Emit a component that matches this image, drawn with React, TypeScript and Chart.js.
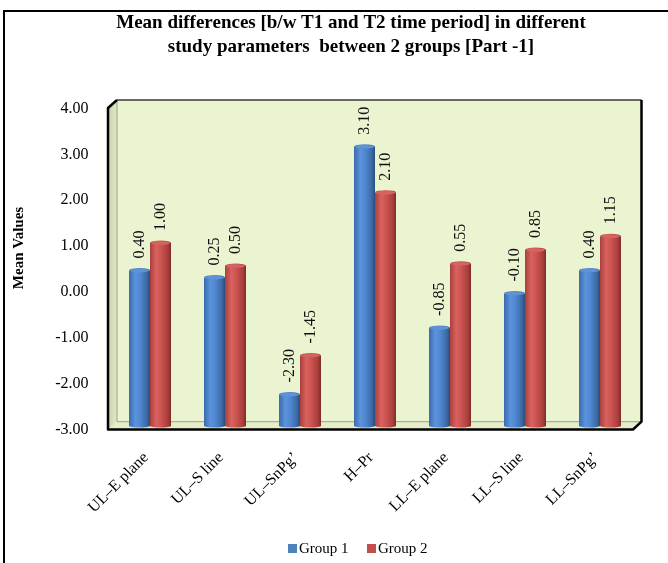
import { useEffect, useRef } from "react";
import { Chart, registerables } from "chart.js";

Chart.register(...registerables);

// ---- data ----
const categories = ["UL–E plane", "UL–S line", "UL–SnPg’", "H–Pr", "LL–E plane", "LL–S line", "LL–SnPg’"];
const group1 = [0.4, 0.25, -2.3, 3.1, -0.85, -0.1, 0.4];
const group2 = [1.0, 0.5, -1.45, 2.1, 0.55, 0.85, 1.15];
const seriesNames = ["Group 1", "Group 2"];
const titleLines = [
  "Mean differences [b/w T1 and T2 time period] in different",
  "study parameters  between 2 groups [Part -1]",
];
const yAxisTitle = "Mean Values";
const yMin = -3;
const yMax = 4;
const yStep = 1;

const SERIF = '"Liberation Serif", "Times New Roman", Times, serif';

const palette = [
  { stops: ["#3b6aab", "#5b93dc", "#4e86cf", "#3c69a3", "#2a4c7c"], cap: "#5f93d6" },
  { stops: ["#a9403d", "#d9625f", "#ca524f", "#a93f3c", "#7c2b29"], cap: "#d46461" },
];

// floating bars: the visible top is whichever end sits higher on screen
const barTop = (el: any) => Math.min(el.y, el.base);
const barBottom = (el: any) => Math.max(el.y, el.base);

// 3D box (back wall, side wall, floor) behind the bars
const boxPlugin = {
  id: "box3d",
  beforeDatasetsDraw(chart: any) {
    const { ctx, chartArea: a } = chart;
    const bl = a.left + 4.5, br = a.right + 4, bt = a.top - 5.5, bb = a.bottom - 4.8;
    const fl = a.left - 4.5, fr = a.right - 4.5, ft = a.top + 2.5, fb = a.bottom + 3;
    ctx.save();
    // back wall
    ctx.fillStyle = "#ebf4d0";
    ctx.fillRect(bl, bt, br - bl, bb - bt);
    // side wall
    const sg = ctx.createLinearGradient(fl, 0, bl, 0);
    sg.addColorStop(0, "#c9d1ab");
    sg.addColorStop(1, "#e2e9c6");
    ctx.fillStyle = sg;
    ctx.beginPath();
    ctx.moveTo(fl, ft);
    ctx.lineTo(bl, bt);
    ctx.lineTo(bl, bb);
    ctx.lineTo(fl, fb);
    ctx.closePath();
    ctx.fill();
    // floor
    ctx.fillStyle = "#e6edcb";
    ctx.beginPath();
    ctx.moveTo(fl, fb);
    ctx.lineTo(bl, bb);
    ctx.lineTo(br, bb);
    ctx.lineTo(fr, fb);
    ctx.closePath();
    ctx.fill();
    // thin inner edges
    ctx.strokeStyle = "#9aa08a";
    ctx.lineWidth = 1;
    ctx.beginPath();
    ctx.moveTo(bl, bt);
    ctx.lineTo(bl, bb);
    ctx.lineTo(br, bb);
    ctx.stroke();
    // outer dark edges
    ctx.strokeStyle = "#3a3a3a";
    ctx.lineWidth = 1.5;
    ctx.beginPath();
    ctx.moveTo(bl, bt);
    ctx.lineTo(br, bt);
    ctx.stroke();
    ctx.strokeStyle = "#000";
    ctx.lineWidth = 2.5;
    ctx.lineJoin = "round";
    ctx.beginPath();
    ctx.moveTo(br, bt);
    ctx.lineTo(br, bb);
    ctx.lineTo(fr, fb);
    ctx.lineTo(fl, fb);
    ctx.lineTo(fl, ft);
    ctx.lineTo(bl, bt);
    ctx.stroke();
    ctx.restore();

    // cylinder shading on every bar
    chart.data.datasets.forEach((_: any, di: number) => {
      const meta = chart.getDatasetMeta(di);
      const p = palette[di];
      meta.data.forEach((el: any) => {
        const x0 = el.x - el.width / 2;
        const g = ctx.createLinearGradient(x0, 0, x0 + el.width, 0);
        g.addColorStop(0, p.stops[0]);
        g.addColorStop(0.3, p.stops[1]);
        g.addColorStop(0.55, p.stops[2]);
        g.addColorStop(0.85, p.stops[3]);
        g.addColorStop(1, p.stops[4]);
        el.options = Object.assign({}, el.options, { backgroundColor: g, borderWidth: 0 });
      });
    });
  },
  afterDatasetsDraw(chart: any) {
    const { ctx } = chart;
    ctx.save();
    chart.data.datasets.forEach((ds: any, di: number) => {
      const meta = chart.getDatasetMeta(di);
      const p = palette[di];
      meta.data.forEach((el: any, i: number) => {
        const rx = el.width / 2;
        const top = barTop(el);
        const bottom = barBottom(el);
        // rounded bottom
        ctx.fillStyle = el.options.backgroundColor;
        ctx.beginPath();
        ctx.ellipse(el.x, bottom - 1, rx, 2, 0, 0, Math.PI);
        ctx.fill();
        // top cap
        ctx.beginPath();
        ctx.ellipse(el.x, top, rx, 2.5, 0, Math.PI, 2 * Math.PI);
        ctx.fill();
        ctx.fillStyle = p.cap;
        ctx.beginPath();
        ctx.ellipse(el.x, top, rx - 1, 1.8, 0, 0, 2 * Math.PI);
        ctx.fill();
        // value label, rotated
        const v = ds.values[i];
        ctx.save();
        ctx.translate(el.x, top - 12);
        ctx.rotate(-Math.PI / 2);
        ctx.font = `16px ${SERIF}`;
        ctx.fillStyle = "#111";
        ctx.textAlign = "left";
        ctx.textBaseline = "middle";
        ctx.fillText(v.toFixed(2), 0, 0);
        ctx.restore();
      });
    });
    ctx.restore();
  },
  afterDraw(chart: any) {
    const { ctx } = chart;
    ctx.save();
    // outer frame
    ctx.strokeStyle = "#000";
    ctx.lineWidth = 2;
    ctx.beginPath();
    ctx.moveTo(4, 563);
    ctx.lineTo(4, 11);
    ctx.lineTo(668, 11);
    ctx.stroke();
    // title
    ctx.fillStyle = "#000";
    ctx.font = `bold 19px ${SERIF}`;
    ctx.textAlign = "center";
    ctx.textBaseline = "middle";
    ctx.fillText(titleLines[0], 351, 23);
    ctx.fillText(titleLines[1], 351, 47);
    // y axis title
    ctx.save();
    ctx.translate(19, 248);
    ctx.rotate(-Math.PI / 2);
    ctx.font = `bold 15px ${SERIF}`;
    ctx.fillText(yAxisTitle, 0, 0);
    ctx.restore();
    // legend
    ctx.font = `15px ${SERIF}`;
    ctx.textAlign = "left";
    const items = [
      { x: 288, color: "#4f81bd" },
      { x: 367, color: "#c0504d" },
    ];
    items.forEach((it, i) => {
      ctx.fillStyle = it.color;
      ctx.fillRect(it.x, 544, 9, 9);
      ctx.fillStyle = "#000";
      ctx.fillText(seriesNames[i], it.x + 11, 549);
    });
    ctx.restore();
  },
};

export default function App() {
  const ref = useRef<HTMLCanvasElement | null>(null);

  useEffect(() => {
    if (!ref.current) return;
    const makeSet = (name: string, values: number[], color: string) => ({
      label: name,
      values,
      data: values.map((v) => [yMin, v]),
      backgroundColor: color,
      borderWidth: 0,
      borderSkipped: false,
      barPercentage: 1,
      categoryPercentage: 0.56,
    });
    const chart = new Chart(ref.current, {
      type: "bar",
      data: {
        labels: categories,
        datasets: [
          makeSet(seriesNames[0], group1, "#4f81bd"),
          makeSet(seriesNames[1], group2, "#c0504d"),
        ] as any,
      },
      options: {
        responsive: false,
        animation: false,
        layout: { padding: { top: 105.5, right: 30.5, left: 0, bottom: 0 } },
        plugins: {
          legend: { display: false },
          title: { display: false },
          tooltip: { enabled: false },
        },
        scales: {
          x: {
            grid: { display: false, drawTicks: false },
            border: { display: false },
            ticks: {
              autoSkip: false,
              minRotation: 45,
              maxRotation: 45,
              padding: 22,
              labelOffset: -4,
              color: "#000",
              font: { family: SERIF, size: 16 },
            },
            afterFit: (s: any) => {
              s.height = 136.5;
            },
          },
          y: {
            min: yMin,
            max: yMax,
            grid: { display: false, drawTicks: false },
            border: { display: false },
            ticks: {
              stepSize: yStep,
              padding: 24,
              labelOffset: 3,
              color: "#000",
              font: { family: SERIF, size: 16 },
              callback: (v: any) => Number(v).toFixed(2),
            },
            afterFit: (s: any) => {
              s.width = 112.5;
            },
          },
        },
      } as any,
      plugins: [boxPlugin],
    });
    return () => chart.destroy();
  }, []);

  return (
    <div style={{ position: "absolute", left: 0, top: 0, width: 668, height: 563, background: "#fff" }}>
      <canvas ref={ref} width={668} height={563} style={{ display: "block" }} />
    </div>
  );
}
